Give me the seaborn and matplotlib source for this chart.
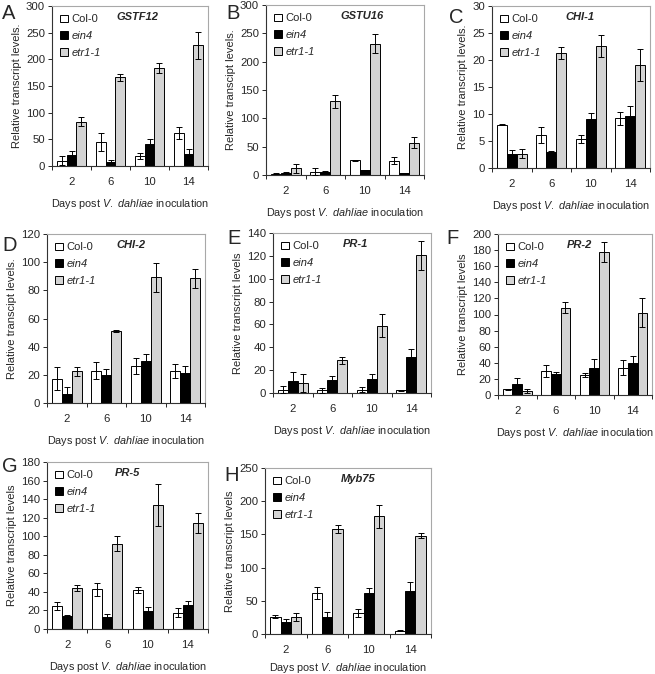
import matplotlib
matplotlib.use("Agg")
import matplotlib.pyplot as plt
import pandas as pd
import seaborn as sb

sb.set_style("ticks")
plt.rcParams["font.family"] = ["Liberation Sans", "DejaVu Sans"]
plt.rcParams["mathtext.fontset"] = "custom"
plt.rcParams["mathtext.it"] = "Liberation Sans:italic"
plt.rcParams["mathtext.rm"] = "Liberation Sans"

days = ["2", "6", "10", "14"]
lines = ["Col-0", "ein4", "etr1-1"]
colors = ["white", "black", "#d4d4d4"]

# means / errors per panel, order: day 2, 6, 10, 14
gstf12_col = [10, 45, 19, 62]
gstf12_col_err = [8, 17, 6, 11]
gstf12_ein = [21, 7.5, 42, 23]
gstf12_ein_err = [7, 4, 8, 9]
gstf12_etr = [83, 166, 184, 226]
gstf12_etr_err = [8, 6, 9, 25]

gstu16_col = [2, 6, 26, 25]
gstu16_col_err = [1, 6, 1, 6]
gstu16_ein = [4, 6, 8, 3]
gstu16_ein_err = [0.5, 0.5, 0.3, 0.3]
gstu16_etr = [12, 130, 232, 57]
gstu16_etr_err = [8, 12, 16, 10]

chi1_col = [8.0, 6.1, 5.4, 9.2]
chi1_col_err = [0.1, 1.5, 0.8, 1.2]
chi1_ein = [2.65, 2.9, 9.1, 9.6]
chi1_ein_err = [0.6, 0.2, 1.1, 1.8]
chi1_etr = [2.65, 21.3, 22.6, 19.1]
chi1_etr_err = [0.8, 1.2, 2.1, 3.0]

chi2_col = [17.3, 22.8, 26.3, 22.8]
chi2_col_err = [8.3, 6, 6, 5.2]
chi2_ein = [6.6, 19.7, 29.6, 21.3]
chi2_ein_err = [4.8, 4.7, 5.2, 4.7]
chi2_etr = [22.5, 51.2, 89.2, 88.5]
chi2_etr_err = [3, 0.5, 10.4, 6.5]

pr1_col = [3, 2.3, 3, 2.3]
pr1_col_err = [3, 2, 2.5, 0.3]
pr1_ein = [10.2, 11.7, 12.2, 31.2]
pr1_ein_err = [8, 3, 4.7, 7.3]
pr1_etr = [8.7, 28.6, 59, 120.4]
pr1_etr_err = [8, 3, 10, 13]

pr2_col = [7, 29.8, 24.8, 34]
pr2_col_err = [1, 7, 3, 9]
pr2_ein = [13.3, 25.7, 33, 40]
pr2_ein_err = [8, 3, 11.5, 8]
pr2_etr = [5, 108.5, 178, 102]
pr2_etr_err = [3, 6.5, 12.5, 18]

pr5_col = [24.8, 42.8, 41.8, 17.6]
pr5_col_err = [4.5, 7, 3, 4.7]
pr5_ein = [14.4, 13.3, 19.8, 26]
pr5_ein_err = [0.3, 3, 4, 4.3]
pr5_etr = [44, 91.8, 134, 114]
pr5_etr_err = [3.5, 8, 22.6, 11]

myb75_col = [26.3, 62, 31.3, 5]
myb75_col_err = [2.5, 9, 6, 1]
myb75_ein = [17.9, 26.3, 61, 65]
myb75_ein_err = [4.5, 7, 8.6, 13.5]
myb75_etr = [26.3, 158, 177, 148]
myb75_etr_err = [6, 6.5, 17, 3.5]

W, H = 655, 674
fig = plt.figure(figsize=(W / 100, H / 100), dpi=100)

# letter, letter pos px, gene, gene x, ylabel, ymax, ystep, (left, right, top, bottom) px, means, errs
panels = [
    ("A", (2, 4), "GSTF12", 0.55, "Relative transcript levels.", 300, 50, (52, 208, 6, 166),
     [gstf12_col, gstf12_ein, gstf12_etr], [gstf12_col_err, gstf12_ein_err, gstf12_etr_err]),
    ("B", (226, 4), "GSTU16", 0.61, "Relative transcipt levels.", 300, 50, (266, 424, 5, 175),
     [gstu16_col, gstu16_ein, gstu16_etr], [gstu16_col_err, gstu16_ein_err, gstu16_etr_err]),
    ("C", (449, 8), "CHI-1", 0.56, "Relative transcript levels.", 30, 5, (492, 650, 6, 168),
     [chi1_col, chi1_ein, chi1_etr], [chi1_col_err, chi1_ein_err, chi1_etr_err]),
    ("D", (2, 236), "CHI-2", 0.53, "Relative transcipt levels.", 120, 20, (47, 205, 234, 403),
     [chi2_col, chi2_ein, chi2_etr], [chi2_col_err, chi2_ein_err, chi2_etr_err]),
    ("E", (227, 229), "PR-1", 0.52, "Relative transcript levels", 140, 20, (273, 431, 233, 393),
     [pr1_col, pr1_ein, pr1_etr], [pr1_col_err, pr1_ein_err, pr1_etr_err]),
    ("F", (446, 229), "PR-2", 0.53, "Relative transcript levels", 200, 20, (498, 652, 234, 395),
     [pr2_col, pr2_ein, pr2_etr], [pr2_col_err, pr2_ein_err, pr2_etr_err]),
    ("G", (2, 457), "PR-5", 0.5, "Relative transcript levels", 180, 20, (47, 208, 462, 629),
     [pr5_col, pr5_ein, pr5_etr], [pr5_col_err, pr5_ein_err, pr5_etr_err]),
    ("H", (224, 466), "Myb75", 0.56, "Relative transcript levels", 250, 50, (265, 431, 468, 634),
     [myb75_col, myb75_ein, myb75_etr], [myb75_col_err, myb75_ein_err, myb75_etr_err]),
]

fs = 7.6

for letter, (lx, ly), gene, gx, ylab, ymax, ystep, (l, r, t, b), means, errs in panels:
    ax = fig.add_axes([l / W, 1 - b / H, (r - l) / W, (b - t) / H])
    rows = []
    for li, name in enumerate(lines):
        for di, d in enumerate(days):
            rows.append({"day": d, "line": name, "value": means[li][di]})
    df = pd.DataFrame(rows)
    sb.barplot(data=df, x="day", y="value", hue="line", order=days, hue_order=lines,
               palette=colors, edgecolor="black", linewidth=0.7, width=0.75,
               errorbar=None, ax=ax)
    bar_groups = list(ax.containers)
    for li, cont in enumerate(bar_groups):
        xs = [p.get_x() + p.get_width() / 2 for p in cont.patches]
        ax.errorbar(xs, means[li], yerr=errs[li], fmt="none", ecolor="black",
                    elinewidth=0.7, capsize=2.5, capthick=0.7, zorder=5)

    ax.set_ylim(0, ymax)
    ax.set_yticks(range(0, ymax + 1, ystep))
    ax.set_xlim(-0.5, 3.5)
    ax.set_xticks([-0.5, 0.5, 1.5, 2.5, 3.5], minor=True)
    ax.tick_params(axis="x", which="major", length=0, labelsize=fs + 0.6, pad=8)
    ax.tick_params(axis="x", which="minor", length=3, width=0.7)
    ax.tick_params(axis="y", length=3, width=0.7, labelsize=fs + 0.6, pad=2)
    ax.set_ylabel(ylab, fontsize=fs + 0.4, labelpad=3)
    ax.set_xlabel(r"Days post $\mathit{V.\ dahliae}$ inoculation", fontsize=fs + 0.2,
                  labelpad=4 if letter == "H" else 7)
    for s in ["left", "bottom"]:
        ax.spines[s].set_color("#333333")
        ax.spines[s].set_linewidth(0.8)
    for s in ["top", "right"]:
        ax.spines[s].set_color("#a8a8a8")
        ax.spines[s].set_linewidth(0.8)

    leg = ax.legend(loc="upper left", frameon=False, fontsize=fs + 0.4, handlelength=0.7,
                    handleheight=0.7, handletextpad=0.3, labelspacing=0.6,
                    borderaxespad=0.35)
    for txt in leg.get_texts()[1:]:
        txt.set_fontstyle("italic")

    ax.text(gx, 0.965, gene, transform=ax.transAxes, ha="center", va="top",
            fontsize=fs + 0.4, fontweight="bold", fontstyle="italic")
    fig.text(lx / W, 1 - ly / H, letter, fontsize=14.5, ha="left", va="top")

plt.savefig("out.png", dpi=100)
